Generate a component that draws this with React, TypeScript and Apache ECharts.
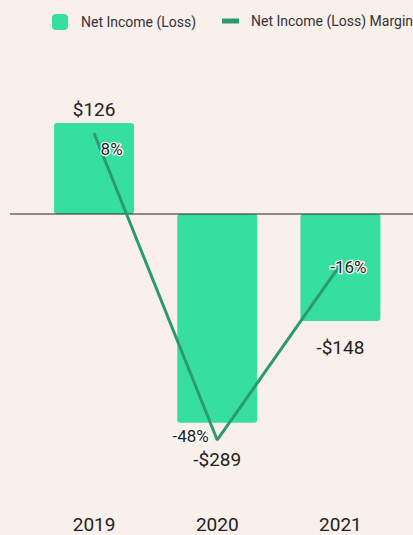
import React, { useEffect, useRef } from "react";
import * as echarts from "echarts";

const years = ["2019", "2020", "2021"];
const netIncome = [126, -289, -148];
const margin = [8, -48, -16];
const barLabels = ["$126", "-$289", "-$148"];
const marginLabels = ["8%", "-48%", "-16%"];

const BG = "#f9efeb";
const BAR = "#36df9f";
const LINE = "#2c9a6c";
const FONT = "Roboto";

export default function App() {
  const ref = useRef<HTMLDivElement>(null);
  useEffect(() => {
    const chart = echarts.init(ref.current!, null, { renderer: "svg" });
    const barLabelCfg = [
      { position: "top", distance: 4 },
      { position: "bottom", distance: 27 },
      { position: "bottom", distance: 17 },
    ];
    const lineLabelCfg = [
      { position: "right", distance: 6, offset: [0, 16] },
      { position: "left", distance: 8, offset: [0, -4] },
      { position: "inside", distance: 0, offset: [8, 2] },
    ];
    chart.setOption({
      animation: false,
      backgroundColor: BG,
      textStyle: { fontFamily: FONT },
      legend: [
        {
          data: ["Net Income (Loss)"],
          left: 47,
          top: 9,
          itemWidth: 16,
          itemHeight: 16,
          icon: "roundRect",
          selectedMode: false,
          textStyle: { fontSize: 14, color: "#333", fontFamily: FONT, padding: [0, 0, 0, 8] },
        },
        {
          data: ["Net Income (Loss) Margin"],
          left: 217,
          top: 9,
          itemWidth: 17,
          itemHeight: 5,
          icon: "rect",
          selectedMode: false,
          textStyle: { fontSize: 14, color: "#333", fontFamily: FONT, padding: [0, 0, 0, 7] },
        },
      ],
      grid: { left: 32.5, right: 11, top: 40, bottom: 30 },
      xAxis: {
        type: "category",
        data: years,
        axisLine: { show: false, onZero: false },
        axisTick: { show: false },
        axisLabel: { color: "#222", fontSize: 19, fontFamily: FONT, margin: 10 },
      },
      yAxis: [
        { type: "value", min: -403, max: 241, show: false, splitLine: { show: false } },
        { type: "value", min: -59.88, max: 25.04, show: false, splitLine: { show: false } },
      ],
      series: [
        {
          name: "Net Income (Loss)",
          type: "bar",
          barWidth: 80,
          yAxisIndex: 0,
          itemStyle: { color: BAR, borderRadius: 3 },
          data: netIncome.map((v, i) => ({
            value: v,
            label: {
              show: true,
              ...barLabelCfg[i],
              formatter: barLabels[i],
              color: "#222",
              fontSize: 19,
              fontFamily: FONT,
            },
          })),
        },
        {
          name: "Net Income (Loss) Margin",
          type: "line",
          yAxisIndex: 1,
          symbol: "circle",
          symbolSize: 1,
          showSymbol: true,
          z: 5,
          lineStyle: { color: LINE, width: 3 },
          itemStyle: { color: LINE },
          data: margin.map((v, i) => ({
            value: v,
            label: {
              show: true,
              ...lineLabelCfg[i],
              formatter: marginLabels[i],
              color: "#222",
              fontSize: 17,
              fontFamily: FONT,
              textBorderColor: "#ffffff",
              textBorderWidth: 2.5,
            },
          })),
        },
      ],
    });
    const y0 = chart.convertToPixel({ yAxisIndex: 0 }, 0) as number;
    chart.setOption({
      graphic: [
        {
          type: "line",
          z: 3,
          shape: { x1: 10, y1: y0, x2: 413, y2: y0 },
          style: { stroke: "#222", lineWidth: 1 },
        },
      ],
    });
    return () => chart.dispose();
  }, []);
  return (
    <div
      ref={ref}
      style={{ position: "fixed", left: 0, top: 0, width: 413, height: 535 }}
    />
  );
}
